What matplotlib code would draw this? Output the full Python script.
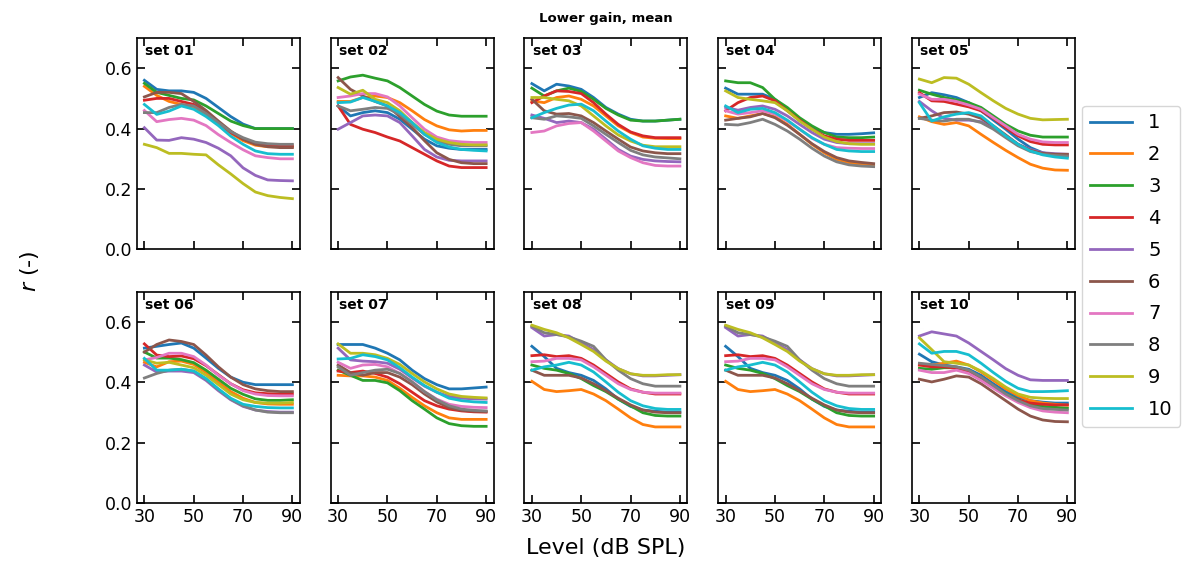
import numpy as np
import matplotlib.pyplot as plt

# Levels (dB SPL)
levels = np.arange(30, 95, 5)
set_names = ["set 01", "set 02", "set 03", "set 04", "set 05",
             "set 06", "set 07", "set 08", "set 09", "set 10"]
series_labels = ["1", "2", "3", "4", "5", "6", "7", "8", "9", "10"]

# r values per set, one row per series 1..10
set01 = [
    [0.56, 0.53, 0.525, 0.525, 0.52, 0.50, 0.47, 0.44, 0.415, 0.40, 0.40, 0.40, 0.40],
    [0.54, 0.51, 0.49, 0.48, 0.47, 0.445, 0.415, 0.385, 0.36, 0.345, 0.34, 0.34, 0.34],
    [0.55, 0.52, 0.51, 0.50, 0.495, 0.475, 0.45, 0.425, 0.41, 0.40, 0.40, 0.40, 0.40],
    [0.494, 0.50, 0.50, 0.49, 0.48, 0.453, 0.42, 0.387, 0.365, 0.35, 0.345, 0.343, 0.343],
    [0.403, 0.362, 0.361, 0.37, 0.365, 0.354, 0.335, 0.31, 0.27, 0.245, 0.23, 0.228, 0.227],
    [0.505, 0.52, 0.52, 0.516, 0.49, 0.46, 0.425, 0.392, 0.365, 0.348, 0.34, 0.337, 0.337],
    [0.46, 0.423, 0.43, 0.434, 0.428, 0.41, 0.38, 0.354, 0.33, 0.31, 0.304, 0.30, 0.30],
    [0.453, 0.453, 0.47, 0.48, 0.475, 0.45, 0.42, 0.39, 0.37, 0.355, 0.35, 0.348, 0.348],
    [0.348, 0.337, 0.318, 0.318, 0.315, 0.313, 0.28, 0.25, 0.218, 0.19, 0.178, 0.172, 0.168],
    [0.48, 0.447, 0.458, 0.475, 0.464, 0.44, 0.41, 0.375, 0.348, 0.326, 0.317, 0.315, 0.315],
]
set02 = [
    [0.475, 0.442, 0.453, 0.459, 0.453, 0.431, 0.398, 0.365, 0.343, 0.335, 0.331, 0.331, 0.331],
    [0.49, 0.49, 0.503, 0.508, 0.503, 0.486, 0.459, 0.43, 0.409, 0.396, 0.392, 0.394, 0.394],
    [0.558, 0.571, 0.577, 0.567, 0.558, 0.536, 0.508, 0.48, 0.458, 0.445, 0.441, 0.441, 0.441],
    [0.475, 0.414, 0.398, 0.387, 0.372, 0.359, 0.337, 0.315, 0.293, 0.276, 0.271, 0.271, 0.271],
    [0.398, 0.42, 0.442, 0.445, 0.442, 0.42, 0.376, 0.331, 0.306, 0.295, 0.293, 0.293, 0.293],
    [0.569, 0.53, 0.508, 0.49, 0.475, 0.44, 0.403, 0.36, 0.32, 0.298, 0.287, 0.284, 0.284],
    [0.503, 0.508, 0.516, 0.516, 0.505, 0.475, 0.436, 0.398, 0.372, 0.36, 0.356, 0.354, 0.354],
    [0.475, 0.459, 0.464, 0.47, 0.467, 0.447, 0.414, 0.381, 0.359, 0.348, 0.343, 0.343, 0.343],
    [0.536, 0.514, 0.527, 0.497, 0.486, 0.459, 0.42, 0.387, 0.365, 0.354, 0.348, 0.346, 0.346],
    [0.486, 0.488, 0.503, 0.49, 0.475, 0.453, 0.42, 0.381, 0.354, 0.339, 0.331, 0.328, 0.326],
]
set03 = [
    [0.549, 0.525, 0.547, 0.541, 0.53, 0.503, 0.47, 0.448, 0.431, 0.425, 0.425, 0.428, 0.431],
    [0.492, 0.486, 0.503, 0.508, 0.497, 0.475, 0.442, 0.409, 0.387, 0.372, 0.368, 0.367, 0.367],
    [0.534, 0.508, 0.525, 0.534, 0.523, 0.497, 0.467, 0.445, 0.428, 0.425, 0.425, 0.428, 0.431],
    [0.486, 0.508, 0.525, 0.523, 0.516, 0.486, 0.448, 0.414, 0.389, 0.376, 0.37, 0.37, 0.37],
    [0.445, 0.434, 0.42, 0.425, 0.42, 0.398, 0.365, 0.331, 0.309, 0.298, 0.293, 0.291, 0.29],
    [0.497, 0.459, 0.448, 0.45, 0.442, 0.42, 0.392, 0.365, 0.339, 0.326, 0.32, 0.317, 0.317],
    [0.387, 0.392, 0.409, 0.417, 0.42, 0.392, 0.359, 0.326, 0.304, 0.287, 0.278, 0.276, 0.276],
    [0.436, 0.431, 0.442, 0.439, 0.434, 0.409, 0.381, 0.354, 0.328, 0.313, 0.306, 0.303, 0.30],
    [0.503, 0.503, 0.497, 0.492, 0.475, 0.442, 0.409, 0.379, 0.359, 0.345, 0.34, 0.34, 0.34],
    [0.436, 0.453, 0.467, 0.478, 0.481, 0.459, 0.425, 0.392, 0.365, 0.343, 0.335, 0.331, 0.331],
]
set04 = [
    [0.534, 0.514, 0.514, 0.514, 0.497, 0.464, 0.431, 0.403, 0.387, 0.381, 0.381, 0.383, 0.386],
    [0.442, 0.434, 0.442, 0.45, 0.439, 0.414, 0.381, 0.348, 0.32, 0.298, 0.287, 0.282, 0.28],
    [0.558, 0.552, 0.552, 0.536, 0.497, 0.47, 0.436, 0.409, 0.387, 0.372, 0.37, 0.37, 0.372],
    [0.459, 0.486, 0.503, 0.508, 0.492, 0.459, 0.428, 0.398, 0.376, 0.365, 0.361, 0.361, 0.361],
    [0.47, 0.461, 0.47, 0.475, 0.464, 0.442, 0.414, 0.387, 0.365, 0.354, 0.35, 0.35, 0.35],
    [0.428, 0.434, 0.439, 0.45, 0.436, 0.411, 0.381, 0.35, 0.324, 0.304, 0.293, 0.288, 0.284],
    [0.459, 0.448, 0.453, 0.459, 0.448, 0.425, 0.398, 0.368, 0.348, 0.337, 0.335, 0.334, 0.334],
    [0.414, 0.412, 0.42, 0.431, 0.414, 0.392, 0.365, 0.335, 0.309, 0.29, 0.28, 0.276, 0.274],
    [0.525, 0.503, 0.497, 0.492, 0.486, 0.459, 0.425, 0.398, 0.372, 0.357, 0.35, 0.348, 0.348],
    [0.475, 0.453, 0.464, 0.467, 0.453, 0.428, 0.398, 0.37, 0.348, 0.331, 0.326, 0.324, 0.324],
]
set05 = [
    [0.503, 0.519, 0.512, 0.503, 0.486, 0.459, 0.428, 0.398, 0.365, 0.337, 0.32, 0.312, 0.309],
    [0.439, 0.423, 0.414, 0.42, 0.409, 0.381, 0.354, 0.328, 0.304, 0.282, 0.269, 0.263, 0.262],
    [0.527, 0.514, 0.503, 0.495, 0.486, 0.47, 0.442, 0.414, 0.392, 0.378, 0.372, 0.372, 0.372],
    [0.519, 0.492, 0.49, 0.481, 0.472, 0.459, 0.434, 0.403, 0.376, 0.357, 0.348, 0.346, 0.346],
    [0.49, 0.459, 0.434, 0.428, 0.428, 0.423, 0.403, 0.376, 0.348, 0.331, 0.32, 0.317, 0.315],
    [0.434, 0.442, 0.453, 0.455, 0.448, 0.434, 0.409, 0.379, 0.348, 0.328, 0.318, 0.315, 0.315],
    [0.514, 0.497, 0.497, 0.49, 0.478, 0.464, 0.436, 0.409, 0.381, 0.365, 0.356, 0.354, 0.354],
    [0.434, 0.428, 0.425, 0.431, 0.431, 0.42, 0.398, 0.37, 0.343, 0.324, 0.315, 0.311, 0.309],
    [0.564, 0.552, 0.569, 0.567, 0.547, 0.519, 0.492, 0.467, 0.448, 0.434, 0.429, 0.43, 0.431],
    [0.486, 0.425, 0.439, 0.448, 0.453, 0.442, 0.409, 0.376, 0.348, 0.326, 0.313, 0.306, 0.302],
]
set06 = [
    [0.513, 0.519, 0.525, 0.53, 0.513, 0.48, 0.446, 0.417, 0.40, 0.392, 0.392, 0.392, 0.392],
    [0.466, 0.451, 0.468, 0.47, 0.459, 0.432, 0.40, 0.369, 0.347, 0.333, 0.328, 0.327, 0.327],
    [0.50, 0.48, 0.48, 0.475, 0.465, 0.44, 0.41, 0.38, 0.36, 0.345, 0.34, 0.34, 0.342],
    [0.527, 0.49, 0.485, 0.487, 0.478, 0.455, 0.425, 0.395, 0.375, 0.365, 0.362, 0.361, 0.361],
    [0.457, 0.434, 0.437, 0.437, 0.432, 0.406, 0.372, 0.342, 0.32, 0.308, 0.303, 0.301, 0.301],
    [0.50, 0.525, 0.54, 0.535, 0.525, 0.49, 0.451, 0.417, 0.392, 0.378, 0.372, 0.369, 0.369],
    [0.474, 0.482, 0.496, 0.496, 0.485, 0.457, 0.423, 0.395, 0.372, 0.361, 0.356, 0.355, 0.355],
    [0.414, 0.429, 0.44, 0.443, 0.437, 0.41, 0.376, 0.344, 0.322, 0.308, 0.301, 0.299, 0.299],
    [0.474, 0.463, 0.466, 0.457, 0.448, 0.423, 0.392, 0.361, 0.342, 0.333, 0.331, 0.331, 0.333],
    [0.479, 0.44, 0.44, 0.443, 0.437, 0.412, 0.378, 0.347, 0.327, 0.32, 0.316, 0.315, 0.315],
]
set07 = [
    [0.525, 0.525, 0.525, 0.513, 0.496, 0.474, 0.44, 0.412, 0.392, 0.378, 0.378, 0.381, 0.384],
    [0.423, 0.421, 0.421, 0.417, 0.406, 0.38, 0.35, 0.322, 0.299, 0.282, 0.277, 0.277, 0.277],
    [0.44, 0.423, 0.406, 0.406, 0.398, 0.372, 0.339, 0.311, 0.282, 0.263, 0.256, 0.254, 0.254],
    [0.437, 0.432, 0.437, 0.429, 0.417, 0.395, 0.367, 0.339, 0.322, 0.311, 0.305, 0.302, 0.301],
    [0.513, 0.474, 0.47, 0.468, 0.463, 0.443, 0.414, 0.387, 0.367, 0.353, 0.347, 0.345, 0.344],
    [0.457, 0.432, 0.423, 0.432, 0.432, 0.417, 0.392, 0.361, 0.335, 0.316, 0.307, 0.304, 0.303],
    [0.466, 0.446, 0.457, 0.459, 0.451, 0.429, 0.401, 0.369, 0.344, 0.327, 0.32, 0.317, 0.316],
    [0.451, 0.423, 0.432, 0.44, 0.443, 0.429, 0.401, 0.369, 0.342, 0.322, 0.311, 0.307, 0.305],
    [0.527, 0.496, 0.496, 0.491, 0.479, 0.459, 0.429, 0.401, 0.378, 0.361, 0.353, 0.35, 0.348],
    [0.477, 0.479, 0.491, 0.485, 0.474, 0.448, 0.417, 0.389, 0.367, 0.347, 0.339, 0.335, 0.333],
]
set08 = [
    [0.519, 0.485, 0.446, 0.432, 0.423, 0.406, 0.378, 0.344, 0.32, 0.308, 0.304, 0.301, 0.301],
    [0.403, 0.376, 0.369, 0.372, 0.376, 0.361, 0.339, 0.311, 0.282, 0.26, 0.252, 0.252, 0.252],
    [0.457, 0.446, 0.44, 0.429, 0.412, 0.389, 0.369, 0.344, 0.322, 0.299, 0.29, 0.288, 0.288],
    [0.488, 0.491, 0.485, 0.488, 0.479, 0.457, 0.429, 0.401, 0.378, 0.367, 0.361, 0.361, 0.361],
    [0.581, 0.553, 0.558, 0.553, 0.53, 0.508, 0.474, 0.445, 0.428, 0.421, 0.421, 0.423, 0.425],
    [0.44, 0.423, 0.423, 0.423, 0.414, 0.395, 0.372, 0.347, 0.325, 0.308, 0.301, 0.299, 0.299],
    [0.468, 0.47, 0.479, 0.479, 0.474, 0.451, 0.423, 0.395, 0.376, 0.367, 0.364, 0.364, 0.364],
    [0.586, 0.564, 0.558, 0.55, 0.536, 0.519, 0.474, 0.44, 0.412, 0.395, 0.387, 0.387, 0.387],
    [0.589, 0.575, 0.564, 0.547, 0.525, 0.502, 0.47, 0.445, 0.428, 0.423, 0.423, 0.425, 0.425],
    [0.44, 0.451, 0.457, 0.466, 0.457, 0.434, 0.401, 0.367, 0.339, 0.322, 0.313, 0.31, 0.31],
]
set09 = [row[:] for row in set08]  # reads the same as set 08 in the source chart
set10 = [
    [0.493, 0.468, 0.457, 0.451, 0.443, 0.423, 0.395, 0.369, 0.35, 0.339, 0.334, 0.331, 0.331],
    [0.457, 0.457, 0.463, 0.47, 0.457, 0.434, 0.406, 0.378, 0.356, 0.339, 0.331, 0.327, 0.324],
    [0.446, 0.443, 0.448, 0.448, 0.437, 0.414, 0.387, 0.361, 0.342, 0.327, 0.32, 0.317, 0.314],
    [0.457, 0.451, 0.451, 0.446, 0.434, 0.412, 0.384, 0.358, 0.341, 0.331, 0.327, 0.325, 0.325],
    [0.553, 0.567, 0.56, 0.553, 0.53, 0.502, 0.474, 0.445, 0.423, 0.408, 0.406, 0.406, 0.406],
    [0.41, 0.401, 0.41, 0.421, 0.417, 0.395, 0.367, 0.339, 0.311, 0.288, 0.275, 0.27, 0.269],
    [0.44, 0.432, 0.432, 0.44, 0.429, 0.406, 0.38, 0.355, 0.333, 0.316, 0.305, 0.301, 0.299],
    [0.463, 0.459, 0.455, 0.451, 0.44, 0.417, 0.389, 0.361, 0.339, 0.322, 0.313, 0.31, 0.308],
    [0.547, 0.508, 0.468, 0.463, 0.457, 0.437, 0.412, 0.384, 0.361, 0.35, 0.347, 0.346, 0.346],
    [0.527, 0.496, 0.502, 0.502, 0.491, 0.463, 0.432, 0.403, 0.38, 0.369, 0.369, 0.37, 0.372],
]
all_sets = [set01, set02, set03, set04, set05, set06, set07, set08, set09, set10]

colors = plt.rcParams['axes.prop_cycle'].by_key()['color']

fig, axes = plt.subplots(2, 5, figsize=(11.85, 5.65), dpi=100, sharex=True, sharey=True)
fig.subplots_adjust(left=0.1156, right=0.907, top=0.9327, bottom=0.1097,
                    wspace=0.19, hspace=0.2)

for ax, name, data in zip(axes.flat, set_names, all_sets):
    for i, row in enumerate(data):
        ax.plot(levels, row, color=colors[i], lw=2, label=series_labels[i])
    ax.text(0.05, 0.97, name, transform=ax.transAxes, fontsize=10,
            fontweight='bold', va='top', ha='left')
    ax.set_ylim(0, 0.7)
    ax.set_xticks([30, 50, 70, 90])
    ax.set_yticks([0.0, 0.2, 0.4, 0.6])
    ax.tick_params(direction='in', top=True, right=True, length=6, width=1.2,
                   labelsize=12.5)
    for sp in ax.spines.values():
        sp.set_linewidth(1.2)

handles, labels = axes[0, 0].get_legend_handles_labels()
fig.legend(handles, labels, loc='center left', bbox_to_anchor=(0.913, 0.529),
           borderaxespad=0, fontsize=14, handlelength=2.2, labelspacing=0.66)

fig.text(0.511, 0.967, "Lower gain, mean", ha='center', va='center',
         fontsize=9.5, fontweight='bold')
fig.text(0.511, 0.03, "Level (dB SPL)", ha='center', va='center', fontsize=16)
fig.text(0.025, 0.52, "$r$ (-)", ha='center', va='center', rotation=90, fontsize=16)

plt.savefig("out.png", dpi=100)
